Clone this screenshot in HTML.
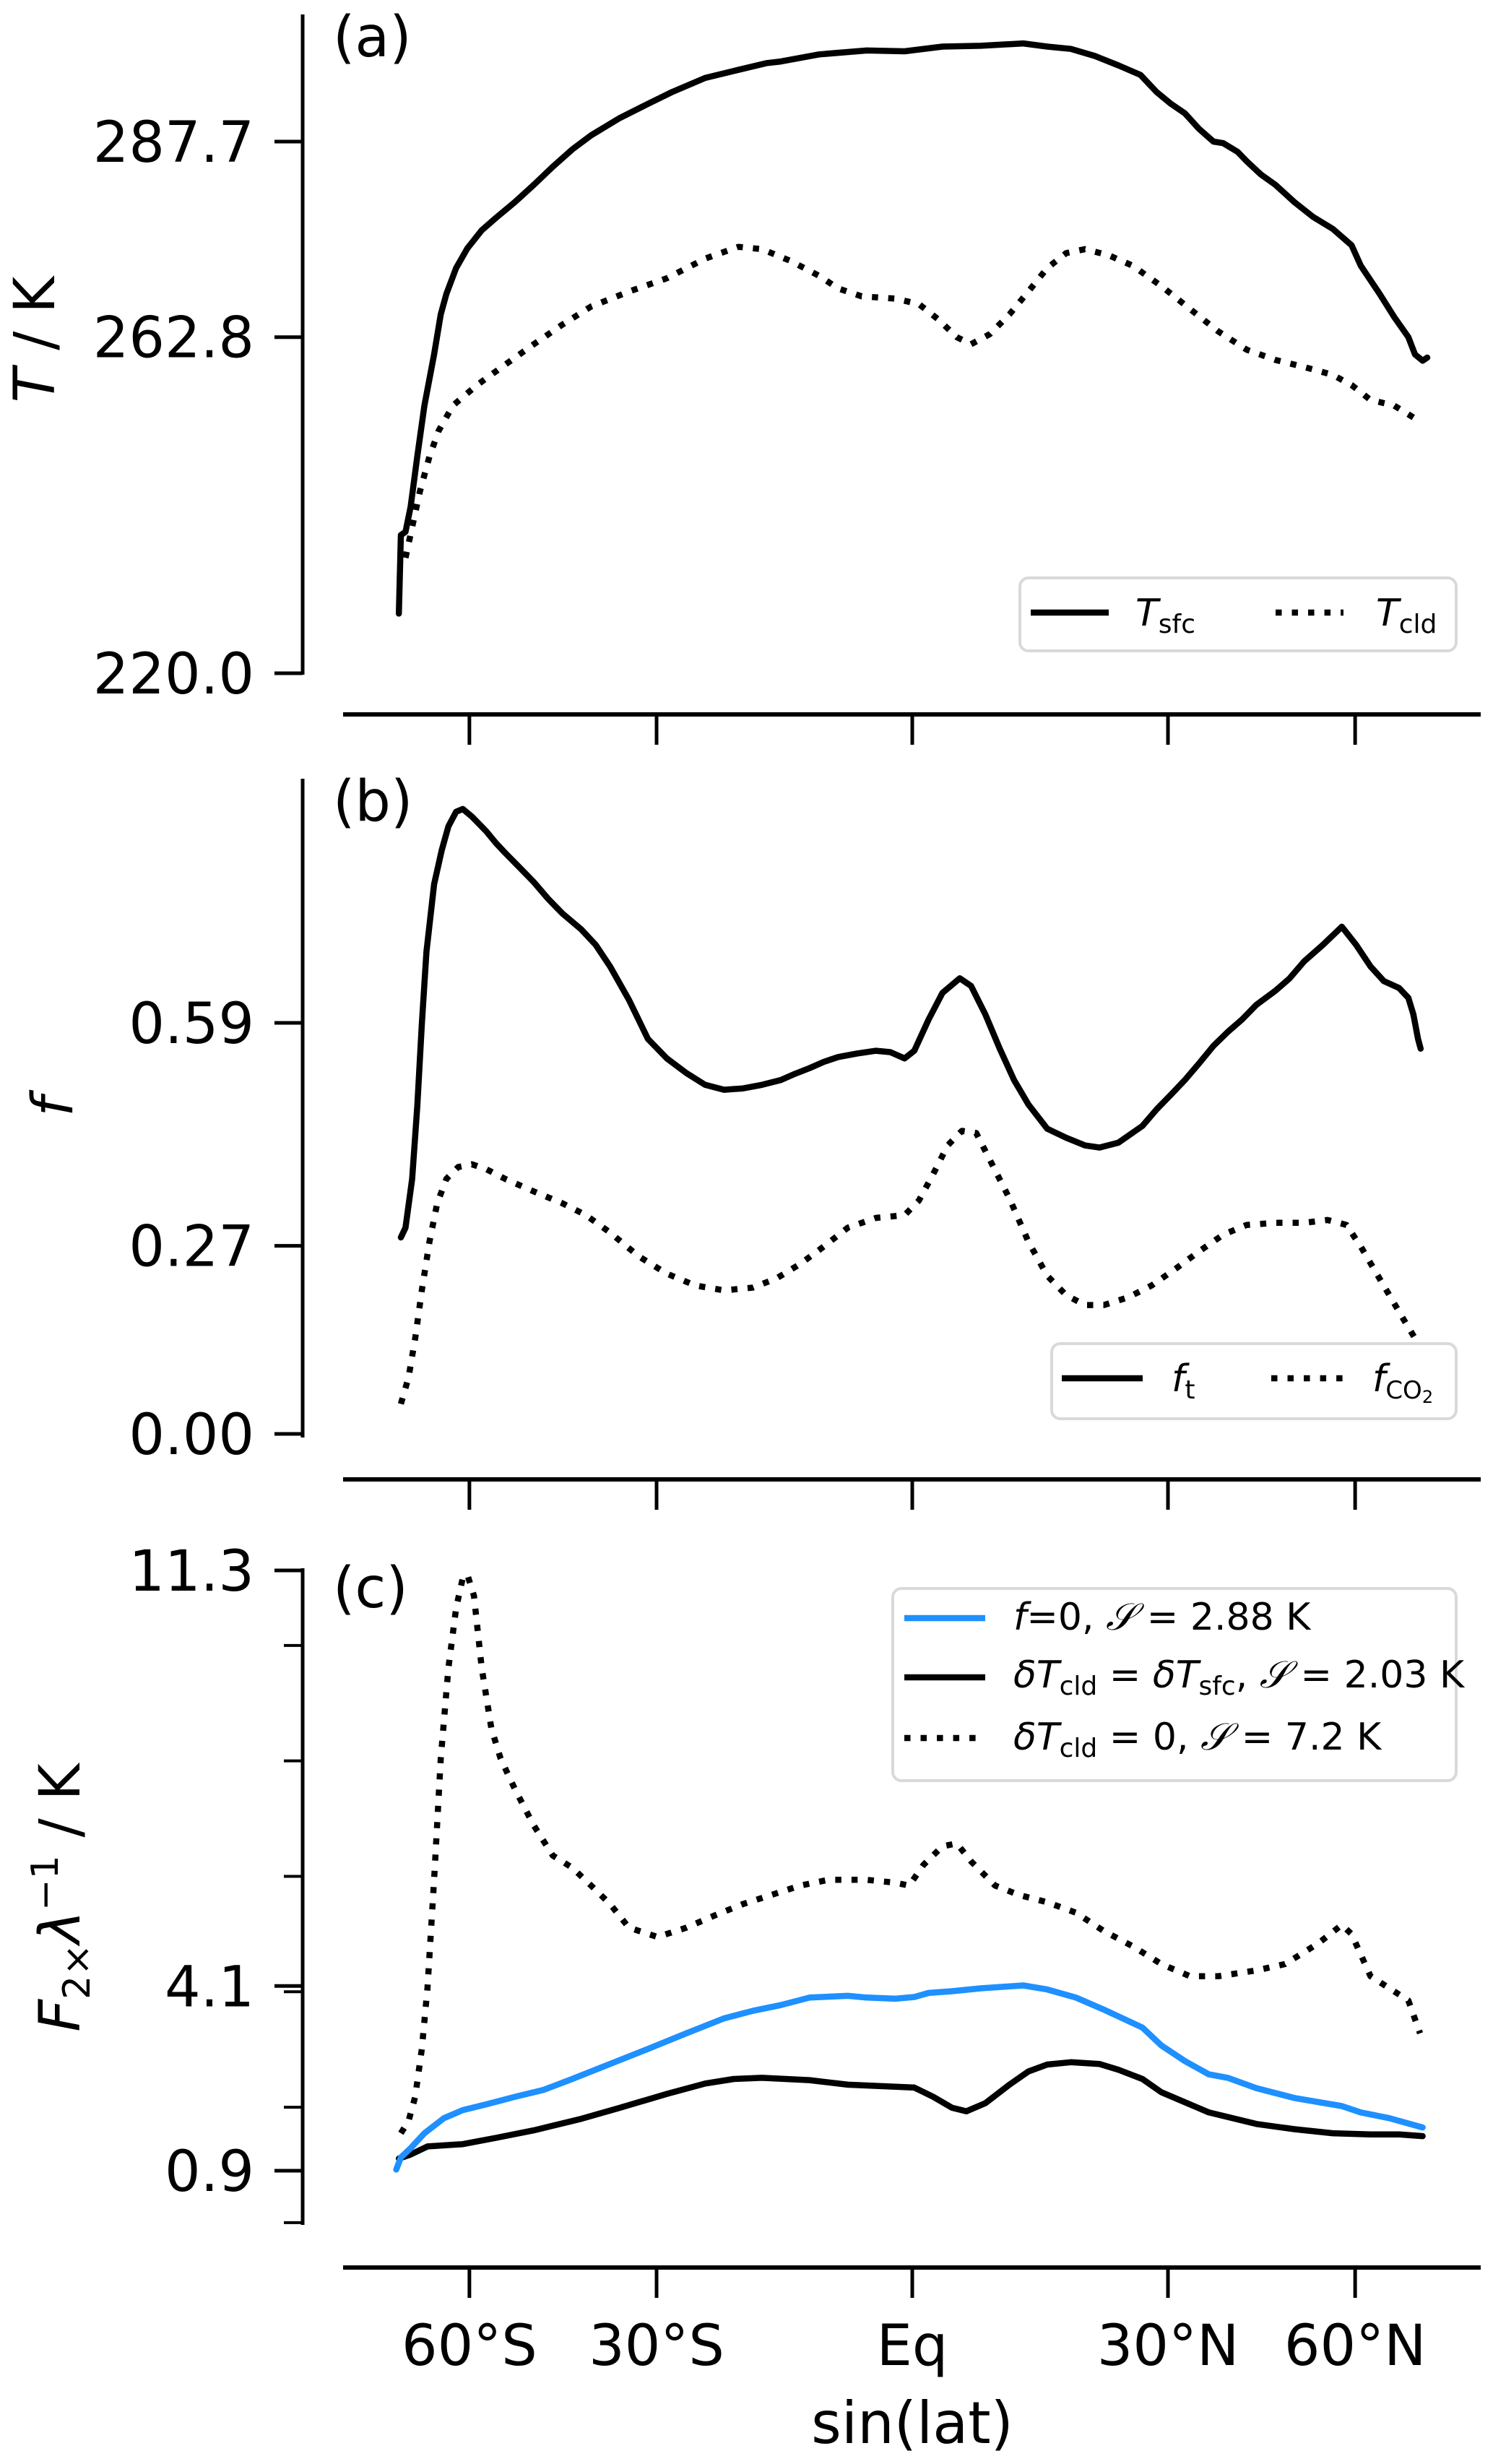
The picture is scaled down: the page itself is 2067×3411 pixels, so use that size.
<!DOCTYPE html>
<html><head><meta charset="utf-8">
<style>
html,body{margin:0;padding:0;background:#fff;}
svg{display:block;font-family:"DejaVu Sans","Liberation Sans",sans-serif;}
</style></head>
<body>
<svg id="fig" width="2067" height="3411" viewBox="0 0 2067 3411" xmlns="http://www.w3.org/2000/svg">
<g id="panels"></g>
</svg>
<script>
// ---------- data (x = sin(lat)) ----------
const xTicks = [-0.866, -0.5, 0, 0.5, 0.866];
const xTickLabels = ["60°S", "30°S", "Eq", "30°N", "60°N"];

// panel (a)
const aYTicks = [287.7, 262.8, 220.0];
const aYTickLabels = ["287.7", "262.8", "220.0"];
const tsfcX = [-1.004,-1.000,-0.991,-0.981,-0.968,-0.954,-0.935,-0.922,-0.911,-0.892,-0.870,-0.842,-0.814,-0.777,-0.740,-0.703,-0.665,-0.628,-0.572,-0.517,-0.470,-0.405,-0.349,-0.284,-0.257,-0.182,-0.089,-0.015,0.059,0.134,0.217,0.264,0.310,0.357,0.403,0.446,0.478,0.506,0.533,0.561,0.589,0.608,0.636,0.654,0.682,0.710,0.747,0.784,0.822,0.859,0.877,0.914,0.942,0.970,0.983,0.998,1.007];
const tsfcY = [227.6,237.6,238.0,241.2,247.6,254.1,260.6,265.7,268.3,271.6,274.1,276.4,278.0,280.0,282.2,284.5,286.7,288.5,290.7,292.5,294.0,295.8,296.7,297.7,297.9,298.8,299.3,299.2,299.8,299.9,300.2,299.8,299.5,298.6,297.4,296.2,294.0,292.5,291.3,289.3,287.7,287.5,286.4,285.2,283.5,282.2,280.0,278.1,276.6,274.5,271.9,268.3,265.4,262.8,260.6,259.8,260.2];
const tcldX = [-0.991,-0.978,-0.963,-0.944,-0.926,-0.898,-0.851,-0.796,-0.740,-0.684,-0.628,-0.554,-0.480,-0.405,-0.340,-0.294,-0.238,-0.182,-0.145,-0.099,-0.033,0.013,0.050,0.087,0.115,0.152,0.190,0.227,0.264,0.301,0.338,0.385,0.431,0.487,0.543,0.599,0.654,0.710,0.766,0.822,0.859,0.896,0.942,0.989];
const tcldY = [234.7,238.6,243.1,247.6,250.9,254.1,256.7,259.3,261.9,264.4,266.7,268.6,270.3,272.8,274.3,274.0,272.5,270.6,269.0,268.0,267.7,267.0,265.1,262.8,261.9,263.2,265.7,268.6,271.6,273.5,274.0,273.2,271.9,269.3,266.4,263.5,261.2,259.9,259.0,258.0,256.7,254.8,254.1,252.2];

// panel (b)
const bYTicks = [0.59, 0.27, 0.0];
const bYTickLabels = ["0.59", "0.27", "0.00"];
const ftX = [-1.000,-0.991,-0.978,-0.968,-0.959,-0.950,-0.935,-0.920,-0.907,-0.892,-0.879,-0.861,-0.833,-0.814,-0.796,-0.768,-0.740,-0.712,-0.684,-0.647,-0.619,-0.591,-0.554,-0.517,-0.480,-0.442,-0.405,-0.368,-0.331,-0.294,-0.257,-0.229,-0.201,-0.173,-0.145,-0.108,-0.071,-0.043,-0.015,0.004,0.032,0.059,0.093,0.115,0.143,0.171,0.199,0.227,0.264,0.301,0.338,0.366,0.403,0.450,0.478,0.506,0.533,0.561,0.589,0.617,0.645,0.673,0.710,0.738,0.766,0.803,0.840,0.868,0.896,0.922,0.952,0.970,0.980,0.989,0.994];
const ftY = [0.282,0.296,0.366,0.470,0.588,0.692,0.789,0.838,0.872,0.893,0.897,0.886,0.865,0.848,0.834,0.813,0.792,0.768,0.747,0.724,0.702,0.671,0.623,0.567,0.539,0.518,0.501,0.494,0.496,0.501,0.508,0.517,0.525,0.534,0.541,0.546,0.550,0.548,0.539,0.550,0.595,0.633,0.654,0.643,0.602,0.553,0.508,0.473,0.438,0.425,0.414,0.411,0.418,0.442,0.466,0.487,0.508,0.532,0.557,0.577,0.595,0.616,0.636,0.654,0.678,0.702,0.728,0.702,0.671,0.650,0.640,0.626,0.602,0.567,0.553];
const fco2X = [-1.000,-0.985,-0.972,-0.959,-0.944,-0.929,-0.911,-0.888,-0.861,-0.833,-0.796,-0.740,-0.684,-0.638,-0.591,-0.535,-0.480,-0.424,-0.368,-0.312,-0.266,-0.219,-0.173,-0.126,-0.071,-0.015,0.013,0.041,0.069,0.097,0.125,0.152,0.190,0.227,0.264,0.301,0.338,0.375,0.422,0.468,0.515,0.561,0.608,0.654,0.710,0.766,0.812,0.849,0.877,0.905,0.933,0.961,0.989];
const fco2Y = [0.043,0.081,0.137,0.206,0.276,0.331,0.366,0.383,0.387,0.380,0.366,0.348,0.331,0.314,0.289,0.255,0.230,0.213,0.206,0.210,0.223,0.244,0.269,0.296,0.310,0.314,0.335,0.373,0.414,0.435,0.432,0.393,0.338,0.276,0.227,0.199,0.185,0.185,0.196,0.213,0.237,0.262,0.286,0.300,0.303,0.303,0.307,0.300,0.269,0.234,0.199,0.164,0.130];

// panel (c)
const cYTicks = [11.3, 4.1, 0.9];
const cYTickLabels = ["11.3", "4.1", "0.9"];
const cMinorTicks = [0, 2, 4, 6, 8, 10];
const f0X = [-1.009,-1.000,-0.981,-0.954,-0.916,-0.879,-0.833,-0.777,-0.721,-0.665,-0.591,-0.517,-0.442,-0.368,-0.312,-0.257,-0.201,-0.126,-0.089,-0.033,0.004,0.032,0.078,0.134,0.217,0.264,0.320,0.375,0.450,0.487,0.533,0.580,0.617,0.673,0.747,0.840,0.877,0.933,0.998];
const f0Y = [0.92,1.13,1.29,1.55,1.81,1.95,2.05,2.18,2.30,2.49,2.75,3.01,3.28,3.54,3.67,3.77,3.90,3.93,3.90,3.88,3.91,3.98,4.01,4.06,4.11,4.04,3.90,3.69,3.38,3.07,2.80,2.57,2.51,2.33,2.16,2.02,1.91,1.81,1.65];
const eqX = [-1.004,-0.981,-0.948,-0.879,-0.814,-0.740,-0.647,-0.572,-0.480,-0.405,-0.349,-0.294,-0.201,-0.126,0.004,0.041,0.078,0.106,0.143,0.190,0.227,0.264,0.310,0.366,0.403,0.450,0.487,0.580,0.673,0.747,0.822,0.896,0.952,0.998];
const eqY = [1.11,1.18,1.32,1.36,1.47,1.60,1.80,1.99,2.23,2.41,2.49,2.51,2.47,2.39,2.34,2.18,1.99,1.93,2.07,2.39,2.62,2.74,2.78,2.75,2.65,2.49,2.26,1.91,1.71,1.62,1.55,1.53,1.53,1.50];
const zeroX = [-1.000,-0.985,-0.972,-0.959,-0.948,-0.935,-0.922,-0.907,-0.892,-0.879,-0.870,-0.857,-0.842,-0.823,-0.805,-0.777,-0.740,-0.703,-0.665,-0.628,-0.591,-0.554,-0.498,-0.442,-0.387,-0.331,-0.275,-0.219,-0.164,-0.089,-0.033,-0.006,0.022,0.059,0.087,0.115,0.162,0.208,0.264,0.320,0.375,0.431,0.487,0.543,0.599,0.673,0.729,0.794,0.840,0.859,0.896,0.942,0.970,0.993];
const zeroY = [1.55,1.76,2.18,3.01,4.06,5.94,8.04,9.61,10.65,11.17,11.23,10.86,9.61,8.56,8.04,7.51,6.88,6.36,6.15,5.84,5.52,5.11,4.95,5.11,5.32,5.52,5.68,5.84,5.94,5.94,5.89,5.84,6.20,6.52,6.57,6.26,5.84,5.68,5.55,5.37,5.05,4.79,4.48,4.27,4.27,4.37,4.48,4.84,5.16,5.00,4.27,4.01,3.85,3.28];

// ---------- drawing ----------
const NS = "http://www.w3.org/2000/svg";
const root = document.getElementById("panels");
function mk(tag, attrs, parent) {
  const e = document.createElementNS(NS, tag);
  for (const k in attrs) e.setAttribute(k, attrs[k]);
  (parent || root).appendChild(e);
  return e;
}
const X0 = 1263, XS = 708;
const xScale = v => X0 + v * XS;
const LW = 8.5;
const DOT = (LW) + "," + (LW * 1.65);

function linScale(v1, p1, v2, p2) { return v => p1 + (v - v1) * (p2 - p1) / (v2 - v1); }

function pathD(xs, ys, ysc) {
  return xs.map((x, i) => (i ? "L" : "M") + xScale(x).toFixed(1) + "," + ysc(ys[i]).toFixed(1)).join(" ");
}

function drawAxes(g, cfg) {
  const ys = mk("line", {x1: 419, x2: 419, y1: cfg.spineTop, y2: cfg.spineBot, stroke: "#000", "stroke-width": 5}, g);
  
  
  cfg.yTicks.forEach((v, i) => {
    const y = cfg.ysc(v);
    const t = mk("line", {x1: 380, x2: 419, y1: y, y2: y, stroke: "#000", "stroke-width": 5}, g);
    
    
    const tx = mk("text", {x: 352, y: y + 28, "font-size": 78, "text-anchor": "end"}, g);
    tx.textContent = cfg.yLabels[i];
    
    
  });
  (cfg.minor || []).forEach(v => {
    const y = cfg.ysc(v);
    const t = mk("line", {x1: 393, x2: 419, y1: y, y2: y, stroke: "#000", "stroke-width": 4}, g);
    
    
  });
  const xs = mk("line", {x1: 475, x2: 2050, y1: cfg.xAxisY, y2: cfg.xAxisY, stroke: "#000", "stroke-width": 6}, g);
  
  
  xTicks.forEach((v, i) => {
    const x = xScale(v);
    const t = mk("line", {x1: x, x2: x, y1: cfg.xAxisY, y2: cfg.xAxisY + 42, stroke: "#000", "stroke-width": 5}, g);
    
    
    if (cfg.xLabels) {
      const tx = mk("text", {x: x, y: cfg.xAxisY + 135, "font-size": 78, "text-anchor": "middle"}, g);
      tx.textContent = xTickLabels[i];
      
      
    }
  });
  const pl = mk("text", {x: 461, y: cfg.labelY, "font-size": 78}, g);
  pl.textContent = cfg.panelLabel;
  
  
}

function series(g, xs, ys, ysc, color, dotted, name) {
  const p = mk("path", {d: pathD(xs, ys, ysc), fill: "none", stroke: color, "stroke-width": LW, "stroke-linejoin": "round", "stroke-linecap": dotted ? "butt" : "round"}, g);
  if (dotted) p.setAttribute("stroke-dasharray", DOT);
  
  
}

function legendBox(g, x, y, w, h, name) {
  const r = mk("rect", {x: x, y: y, width: w, height: h, rx: 12, fill: "#fff", "fill-opacity": 0.85, stroke: "#d9d9d9", "stroke-width": 4}, g);
  
  
}
function legendLine(g, x1, x2, y, color, dotted, name) {
  const l = mk("line", {x1: x1, x2: x2, y1: y, y2: y, stroke: color, "stroke-width": LW, "stroke-linecap": "butt"}, g);
  if (dotted) l.setAttribute("stroke-dasharray", DOT);
  
  
}
function legendText(g, x, y, html, name) {
  const t = mk("text", {x: x, y: y, "font-size": 52}, g);
  t.innerHTML = html;
  
  
}
function yTitle(g, x, y, html, name) {
  const t = mk("text", {x: 0, y: 0, "font-size": 78, "text-anchor": "middle", transform: "translate(" + x + "," + y + ") rotate(-90)"}, g);
  t.innerHTML = html;
  
  
}

// Panel a
const gA = mk("g", {});


const aY = linScale(220, 932, 287.7, 196);
drawAxes(gA, {id: "panel-a", spineTop: 20, spineBot: 934, yTicks: aYTicks, yLabels: aYTickLabels, ysc: aY, xAxisY: 989, panelLabel: "(a)", labelY: 78});
series(gA, tsfcX, tsfcY, aY, "#000", false, "t-sfc-line");
series(gA, tcldX, tcldY, aY, "#000", true, "t-cld-line");
yTitle(gA, 75, 470, '<tspan font-style="italic">T</tspan> / K', "panel-a-y-title");
legendBox(gA, 1412, 800, 604, 101, "panel-a-legend");
legendLine(gA, 1427, 1535, 848, "#000", false, "legend-t-sfc-line");
legendText(gA, 1572, 866, '<tspan font-style="italic">T</tspan><tspan font-size="36" dy="10">sfc</tspan>', "legend-t-sfc");
legendLine(gA, 1766, 1860, 848, "#000", true, "legend-t-cld-line");
legendText(gA, 1905, 866, '<tspan font-style="italic">T</tspan><tspan font-size="36" dy="10">cld</tspan>', "legend-t-cld");

// Panel b
const gB = mk("g", {});


const bY = linScale(0, 1985, 0.59, 1416);
drawAxes(gB, {id: "panel-b", spineTop: 1078, spineBot: 1990, yTicks: bYTicks, yLabels: bYTickLabels, ysc: bY, xAxisY: 2048, panelLabel: "(b)", labelY: 1136});
series(gB, ftX, ftY, bY, "#000", false, "f-t-line");
series(gB, fco2X, fco2Y, bY, "#000", true, "f-co2-line");
yTitle(gB, 100, 1532, '<tspan font-style="italic">f</tspan>', "panel-b-y-title");
legendBox(gB, 1456, 1860, 560, 104, "panel-b-legend");
legendLine(gB, 1470, 1582, 1908, "#000", false, "legend-f-t-line");
legendText(gB, 1622, 1926, '<tspan font-style="italic">f</tspan><tspan font-size="36" dy="10">t</tspan>', "legend-f-t");
legendLine(gB, 1760, 1860, 1908, "#000", true, "legend-f-co2-line");
legendText(gB, 1900, 1926, '<tspan font-style="italic">f</tspan><tspan font-size="34" dy="10">CO</tspan><tspan font-size="24" dy="6">2</tspan>', "legend-f-co2");

// Panel c
const gC = mk("g", {});


const cY = linScale(0.9, 3005, 11.3, 2174);
drawAxes(gC, {id: "panel-c", spineTop: 2171, spineBot: 3080, yTicks: cYTicks, yLabels: cYTickLabels, minor: cMinorTicks, ysc: cY, xAxisY: 3139, panelLabel: "(c)", labelY: 2225, xLabels: true});
series(gC, zeroX, zeroY, cY, "#000", true, "dtcld-zero-line");
series(gC, eqX, eqY, cY, "#000", false, "dtcld-eq-dtsfc-line");
series(gC, f0X, f0Y, cY, "#1e90ff", false, "f-zero-line");
yTitle(gC, 110, 2627, '<tspan font-style="italic">F</tspan><tspan font-size="52" dy="14">2×</tspan><tspan dy="-14" font-style="italic">λ</tspan><tspan font-size="52" dy="-30">−1</tspan><tspan dy="30"> / K</tspan>', "panel-c-y-title");
legendBox(gC, 1236, 2199, 780, 266, "panel-c-legend");
legendLine(gC, 1252, 1364, 2240, "#1e90ff", false, "legend-f-zero-line");
legendText(gC, 1403, 2256, '<tspan font-style="italic">f</tspan>=0, <tspan font-style="italic">𝒮</tspan> = 2.88 K', "legend-f-zero");
legendLine(gC, 1252, 1364, 2322, "#000", false, "legend-dtcld-eq-line");
legendText(gC, 1403, 2336, '<tspan font-style="italic">δT</tspan><tspan font-size="36" dy="10">cld</tspan><tspan dy="-10"> = </tspan><tspan font-style="italic">δT</tspan><tspan font-size="36" dy="10">sfc</tspan><tspan dy="-10">, </tspan><tspan font-style="italic">𝒮</tspan> = 2.03 K', "legend-dtcld-eq");
legendLine(gC, 1252, 1364, 2406, "#000", true, "legend-dtcld-zero-line");
legendText(gC, 1403, 2422, '<tspan font-style="italic">δT</tspan><tspan font-size="36" dy="10">cld</tspan><tspan dy="-10"> = 0, </tspan><tspan font-style="italic">𝒮</tspan> = 7.2 K', "legend-dtcld-zero");

const xt = mk("text", {x: 1263, y: 3382, "font-size": 80, "text-anchor": "middle"});
xt.textContent = "sin(lat)";


</script>
</body></html>
